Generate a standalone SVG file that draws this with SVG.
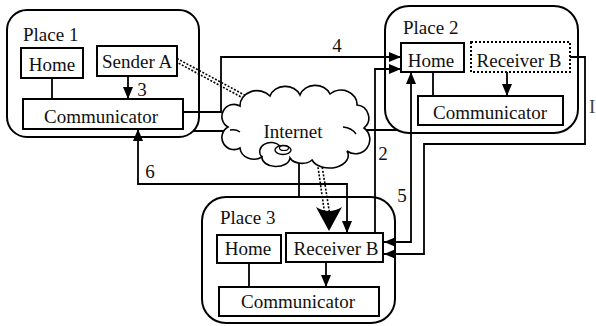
<svg xmlns="http://www.w3.org/2000/svg" width="596" height="326" viewBox="0 0 596 326" font-family="Liberation Serif, Times New Roman, DejaVu Serif, serif" font-size="19">
<defs>
<style>
text{font-family:'Liberation Serif','Times New Roman',serif;font-size:19px;fill:#111}
.place{fill:none;stroke:#000;stroke-width:2}
.box{fill:#fff;stroke:#000;stroke-width:2}
.dbox{fill:#fff;stroke:#000;stroke-width:2;stroke-dasharray:2 2}
.c{fill:none;stroke:#000;stroke-width:1.8}
.a{marker-end:url(#ah)}
.as{marker-start:url(#ah)}
.dot{fill:none;stroke:#000;stroke-width:1.6;stroke-dasharray:2 1.6}
.mid{text-anchor:middle}
</style>
<marker id="ah" markerWidth="13" markerHeight="11" refX="12" refY="5" orient="auto-start-reverse" markerUnits="userSpaceOnUse">
<path d="M0,0 L12,5 L0,10 Z" fill="#000"/>
</marker>
</defs>
<rect width="596" height="326" fill="#fff"/>

<g id="place1">
<rect class="place" x="7" y="10" width="192" height="127" rx="20"/>
<text x="23" y="41">Place 1</text>
</g>
<g id="place2">
<rect class="place" x="385" y="6" width="193" height="127" rx="24"/>
<text x="403" y="34">Place 2</text>
</g>
<g id="place3">
<rect class="place" x="202" y="197" width="193" height="126" rx="24"/>
<text x="220" y="224">Place 3</text>
</g>

<g id="connectors">
<path class="c a" d="M183,112 H221 V57 H401"/>
<path class="c" d="M193,131 H232"/>
<path class="c" d="M362,130 H398"/>
<path class="c" d="M299,160 V197"/>
<path class="c a as" d="M138,129 V184 H347 V233"/>
<path class="c a" d="M375,233 V69 H401"/>
<path class="c a as" d="M411,72 V242 H384"/>
<path class="c a" d="M570,57 H585 V144 H424 V254 H384"/>
<path class="c" d="M52,78 V99"/>
<path class="c a" d="M128,76 V99"/>
<path class="c" d="M433,72 V96"/>
<path class="c a" d="M507,72 V96"/>
<path class="c" d="M249,263 V287"/>
<path class="c a" d="M326,262 V287"/>
<path class="dot" d="M177,58.5 L251,98.5"/>
<path class="dot" d="M175.5,61.5 L249.5,101.5"/>
<path class="dot" d="M316,153 L325,216"/>
<path class="dot" d="M320,153 L330,216"/>
<path d="M329,231 L316,207 Q329,215 342,207 Z" fill="#000"/>
<text x="142" y="96" class="mid">3</text>
<text x="337" y="52" class="mid">4</text>
<text x="383" y="160" class="mid">2</text>
<text x="402" y="202" class="mid">5</text>
<text x="150" y="178" class="mid">6</text>
</g>

<g id="internet">
<path d="M228,127 A11,11 0 0 1 240,106 A17,15 0 0 1 270,96 A16,14 0 0 1 300,95 A16,14 0 0 1 330,94 A16,14 0 0 1 357,105 A13,13 0 0 1 364,128 A14,14 0 0 1 347,151 A18,12 0 0 1 312,160 A13,9 0 0 1 290,158 A14,9 0 0 1 262,157 A14,12 0 0 1 240,148 A11,11 0 0 1 228,127 Z" fill="#fff" stroke="#000" stroke-width="1.6"/>
<path d="M230,130 Q236,129 240,132" fill="none" stroke="#000" stroke-width="1.4"/>
<path d="M343,127 Q352,128 356,134" fill="none" stroke="#000" stroke-width="1.4"/>
<path d="M262,157 A10,8 0 0 1 280,146" fill="none" stroke="#000" stroke-width="1.4"/>
<ellipse cx="283" cy="150" rx="8" ry="4.5" fill="#fff" stroke="#000" stroke-width="1.4"/>
<ellipse cx="284" cy="148" rx="4.5" ry="2.5" fill="none" stroke="#000" stroke-width="1.2"/>
<text x="293" y="138" class="mid">Internet</text>
</g>

<g id="p1-home"><rect class="box" x="21" y="48" width="62" height="30"/><text x="52" y="71" class="mid">Home</text></g>
<g id="p1-sender"><rect class="box" x="97" y="46" width="80" height="30"/><text x="102" y="68">Sender A</text></g>
<g id="p1-comm"><rect class="box" x="23" y="99" width="160" height="30"/><text x="101" y="123" class="mid">Communicator</text></g>

<g id="p2-home"><rect class="box" x="401" y="43" width="63" height="29"/><text x="431" y="67" class="mid">Home</text></g>
<g id="p2-receiver"><rect class="dbox" x="471" y="42" width="99" height="30"/><text x="519" y="67" class="mid">Receiver B</text></g>
<g id="p2-comm"><rect class="box" x="418" y="96" width="145" height="29"/><text x="490" y="119" class="mid">Communicator</text></g>

<g id="p3-home"><rect class="box" x="217" y="235" width="64" height="28"/><text x="248" y="255" class="mid">Home</text></g>
<g id="p3-receiver"><rect class="box" x="286" y="233" width="97" height="29"/><text x="336" y="255" class="mid">Receiver B</text></g>
<g id="p3-comm"><rect class="box" x="219" y="287" width="160" height="29"/><text x="298" y="308" class="mid">Communicator</text></g>

<text x="589" y="113" style="fill:#444">I</text>
</svg>
